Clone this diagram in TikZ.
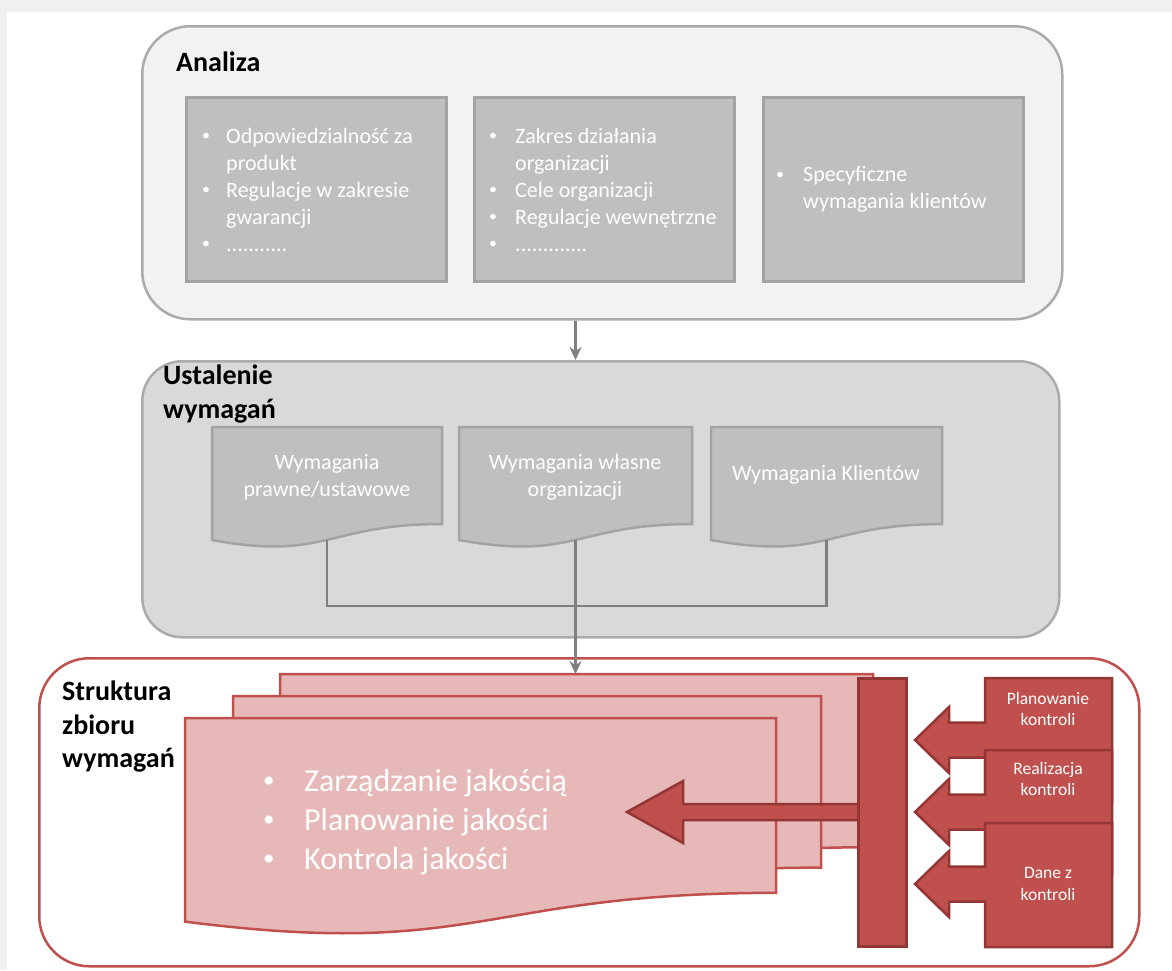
\documentclass[tikz,border=0pt]{standalone}
\usepackage{fontspec}
\setmainfont{Carlito}
\usetikzlibrary{arrows.meta}

\definecolor{bandgray}{HTML}{F0F0F0}
\definecolor{panelAfill}{HTML}{F2F2F2}
\definecolor{panelBfill}{HTML}{D9D9D9}
\definecolor{panelline}{HTML}{ABABAB}
\definecolor{boxfill}{HTML}{BFBFBF}
\definecolor{boxline}{HTML}{A3A3A3}
\definecolor{conngray}{HTML}{7F7F7F}
\definecolor{qred}{HTML}{C0504D}
\definecolor{qpink}{HTML}{E6B9B8}
\definecolor{qdark}{HTML}{943634}

% document shape: name, x, y, width, height, style
\newcommand\docshape[6]{%
  \node[inner sep=0pt, minimum width=#4pt, minimum height=#5pt, anchor=north west] (#1) at (#2,#3) {};
  \draw[#6] (#2,#3) -- ({#2+#4},#3) -- ({#2+#4},{#3+0.802*#5})
    .. controls ({#2+0.5*#4},{#3+0.802*#5}) and ({#2+0.5*#4},{#3+1.1075*#5}) .. (#2,{#3+0.934*#5}) -- cycle;
  \coordinate (#1-b) at ({#2+0.5*#4},{#3+0.933*#5});
}

% left-pointing callout: name, top, centre line
\newcommand\leftcallout[3]{%
  \coordinate (#1-tip) at (915,#3);
  \draw[callout] (1112,#2) -- (985,#2) -- (985,{#3-17.5}) -- (949,{#3-17.5}) -- (949,{#3-33})
    -- (#1-tip) -- (949,{#3+33}) -- (949,{#3+17.5}) -- (985,{#3+17.5}) -- (985,{#2+124})
    -- (1112,{#2+124}) -- cycle;
}

% bullet list in a tabular
\newcommand\blist[1]{\begin{tabular}{@{}l@{}l@{}}#1\end{tabular}}
% small bullet: column width, text
\newcommand\bitem[2]{\makebox[#1pt][l]{\raisebox{0.12em}{\fontsize{0.72em}{1em}\selectfont •}}&#2}

\begin{document}
\begin{tikzpicture}[x=1pt,y=-1pt,
  panelA/.style={draw=panelline, fill=panelAfill, line width=2.5pt, rounded corners=48pt, inner sep=0pt, anchor=north west},
  panelB/.style={draw=panelline, fill=panelBfill, line width=2.5pt, rounded corners=40pt, inner sep=0pt, anchor=north west},
  panelC/.style={draw=qred, fill=white, line width=2.5pt, rounded corners=50pt, inner sep=0pt, anchor=north west},
  graybox/.style={draw=boxline, fill=boxfill, line width=2.5pt, inner sep=0pt, anchor=north west, minimum width=260pt, minimum height=184pt},
  docgray/.style={draw=boxline, fill=boxfill, line width=2.5pt},
  docpink/.style={draw=qred, fill=qpink, line width=2.5pt},
  title/.style={font=\fontsize{28}{33.5}\selectfont\bfseries, text=black, inner sep=0pt, align=left, anchor=west},
  boxtext/.style={font=\fontsize{22}{27}\selectfont, text=white, inner sep=0pt, anchor=west},
  doctext/.style={font=\fontsize{22}{27}\selectfont, text=white, inner sep=0pt, align=center},
  pagetext/.style={font=\fontsize{32}{39}\selectfont, text=white, inner sep=0pt, anchor=west},
  calltext/.style={font=\fontsize{17.5}{21.5}\selectfont, text=white, inner sep=0pt, align=center},
  conn/.style={draw=conngray, line width=2.5pt},
  arr/.style={conn, -{Stealth[length=13pt, width=12pt]}},
  callout/.style={draw=qdark, fill=qred, line width=2.5pt, line join=miter},
  barbox/.style={draw=qdark, fill=qred, line width=2.5pt, inner sep=0pt, anchor=north west},
]
\useasboundingbox (0,0) rectangle (1172,970);
\fill[bandgray] (0,0) rectangle (1172,970);
\fill[white] (7,12) rectangle (1172,970);

% ---------- Analiza ----------
\node[panelA, minimum width=920pt, minimum height=293pt] (analiza) at (141,25) {};
\node[title] (analizaT) at (176,62) {Analiza};

\node[graybox] (a1) at (185,96) {};
\node[graybox] (a2) at (473,96) {};
\node[graybox] (a3) at (762,96) {};

\node[boxtext] (a1t) at (202,192) {\blist{%
  \bitem{24}{Odpowiedzialność za}\\ & produkt\\
  \bitem{24}{Regulacje w zakresie}\\ & gwarancji\\
  \bitem{24}{...........}}};
\node[boxtext] (a2t) at (489,192) {\blist{%
  \bitem{26}{Zakres działania}\\ & organizacji\\
  \bitem{26}{Cele organizacji}\\
  \bitem{26}{Regulacje wewnętrzne}\\
  \bitem{26}{.............}}};
\node[boxtext] (a3t) at (776,190) {\blist{%
  \bitem{27}{Specyficzne}\\ & wymagania klientów}};

% ---------- Ustalenie wymagań ----------
\node[panelB, minimum width=917pt, minimum height=276pt] (ustal) at (141,360) {};
\node[title] (ustalT) at (163,394) {Ustalenie\\wymagań};

\docshape{d1}{212}{427}{230}{121}{docgray}
\docshape{d2}{459}{427}{233}{121}{docgray}
\docshape{d3}{711}{427}{231}{121}{docgray}
\node[doctext] (d1t) at (327,477) {Wymagania\\prawne/ustawowe};
\node[doctext] (d2t) at (575,477) {Wymagania własne\\organizacji};
\node[doctext] (d3t) at (826,475) {Wymagania Klientów};

\draw[arr] (analiza.south -| d2-b) -- (ustal.north -| d2-b);
\draw[conn] (d1-b) -- ++(0,66) -| (d3-b);

% ---------- Struktura zbioru wymagań ----------
\node[panelC, minimum width=1100pt, minimum height=308pt] (strukt) at (38,657) {};
\node[title] (struktT) at (62,727) {Struktura\\zbioru\\wymagań};

\docshape{pg3}{280}{674}{593}{216}{docpink}
\docshape{pg2}{233}{696}{588}{214}{docpink}
\docshape{pg1}{185}{718}{591}{218}{docpink}
\node[pagetext] (pg1t) at (263,823) {\blist{%
  \bitem{41}{Zarządzanie jakością}\\
  \bitem{41}{Planowanie jakości}\\
  \bitem{41}{Kontrola jakości}}};

\draw[arr] (d2-b) -- (d2-b |- pg3.north);

% feedback bar and the arrow into the documents
\node[barbox, minimum width=48pt, minimum height=268pt] (bar) at (857,677) {};
\coordinate (bigtip) at (627,812);
\draw[callout] (bar.west |- 0,804) -- (683,804) -- (683,781) -- (bigtip) -- (683,843)
  -- (683,820) -- (bar.west |- 0,820);

% control callouts
\leftcallout{c1}{678}{740}
\leftcallout{c2}{750}{812}
\leftcallout{c3}{823}{884}
\node[calltext] (c1t) at (1048,709) {Planowanie\\kontroli};
\node[calltext] (c2t) at (1048,779) {Realizacja\\kontroli};
\node[calltext] (c3t) at (1048,884) {Dane z\\kontroli};
\end{tikzpicture}
\end{document}
